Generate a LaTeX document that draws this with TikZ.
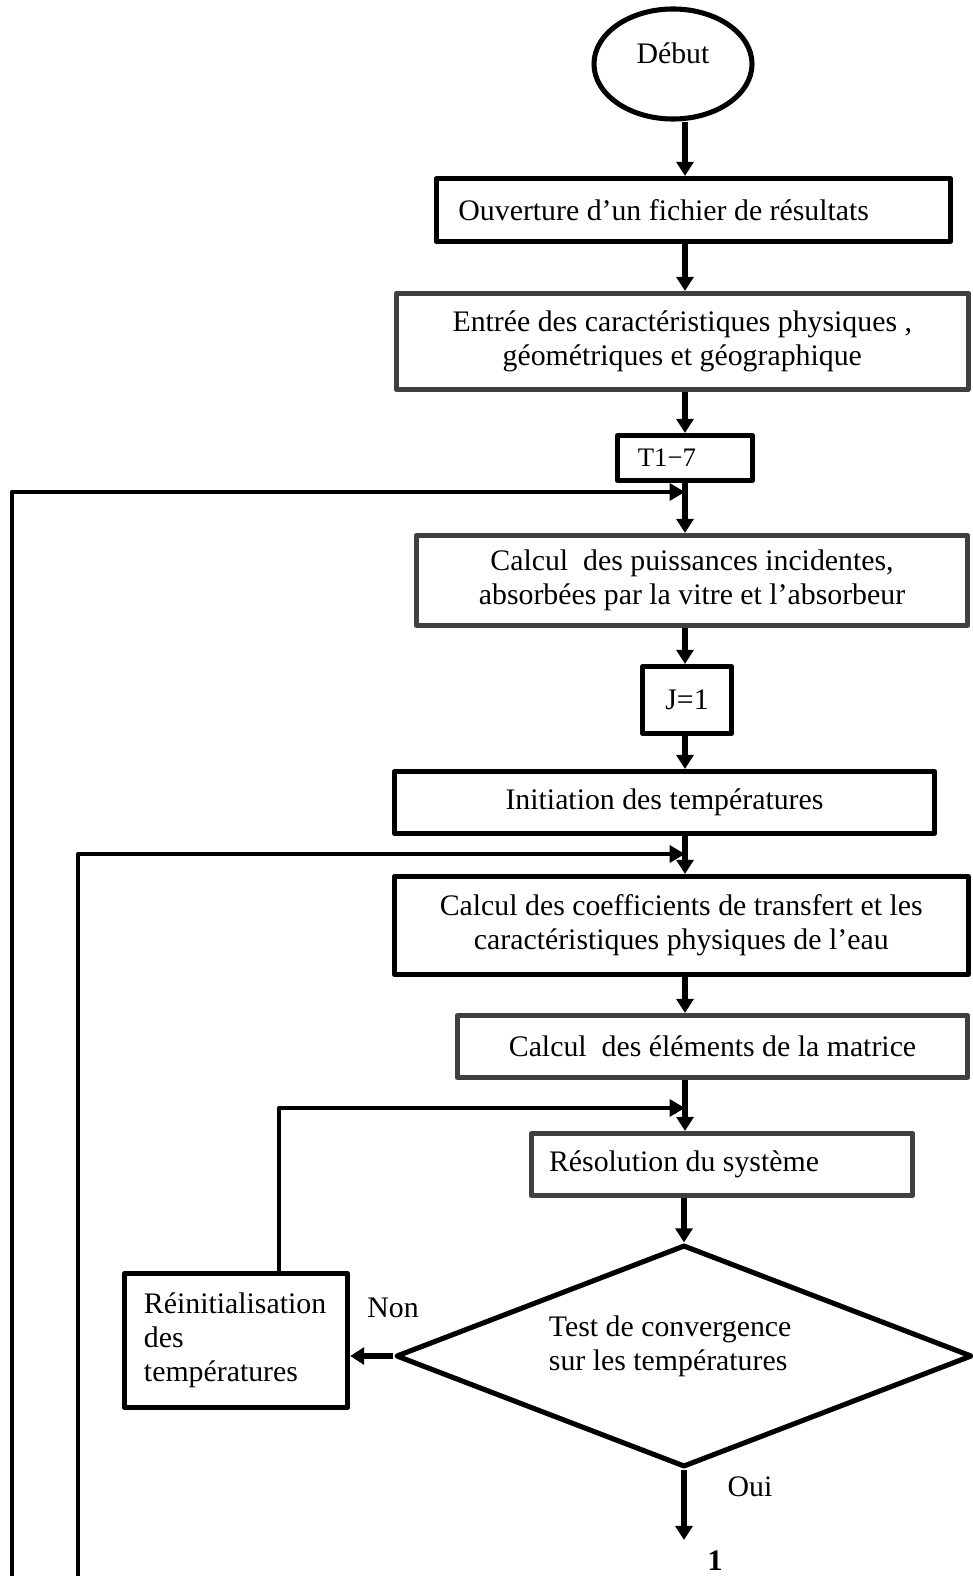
\documentclass[tikz,border=0pt]{standalone}
\usepackage{fontspec}
\setmainfont{Liberation Serif}
\usetikzlibrary{shapes.geometric,arrows.meta}

\begin{document}
\begin{tikzpicture}[
        x = 0.025cm, y = -0.025cm,
        line join=round,
        font = \fontsize{21.2}{24.3}\selectfont,
        boxstyle/.style = {draw, line width=3.6pt, inner sep=0pt},
        greystyle/.style = {boxstyle, draw=black!75},
        leftstyle/.style = {align=flush left, inner ysep=0pt},
        arrowstyle/.style = {line width=3.8pt, -{Triangle[length=10pt, width=12pt]}},
        loopstyle/.style = {line width=3.4pt, -{Triangle[length=11pt, width=12pt]}}
    ]

    \useasboundingbox (0,0) rectangle (972,1576);

        \coordinate (col) at (685,0);
        \coordinate (a1) at (12,1576);
        \coordinate (a2) at (78,1576);
        \coordinate (in1) at (685,492);
        \coordinate (in2) at (685,854);
        \coordinate (in3) at (685,1108);
        \coordinate (back) at (279,0);
        \coordinate (out) at (684,1540);

    \node[boxstyle, ellipse, text depth=0.55cm, minimum width=3.95cm, minimum height=2.75cm] (debut) at (673,64) {Début};
    \node[boxstyle, leftstyle, minimum height=1.575cm, text width=11.75cm, inner xsep=0.55cm] (ouv) at (693.5,210) {Ouverture d’un fichier de résultats};
    \node[greystyle, align=flush center, minimum width=14.29cm, minimum height=2.4cm] (entree) at (682.25,341.5) {Entrée des caractéristiques physiques ,\\ géométriques et géographique};
    \node[boxstyle, leftstyle, minimum height=1.125cm, text width=2.355cm, inner xsep=0.51cm, font=\fontsize{19}{22}\selectfont] (t17) at (685,458) {T1−7};
    \node[greystyle, align=flush center, minimum width=13.775cm, minimum height=2.25cm] (puiss) at (692,580.5) {Calcul~ des puissances incidentes,\\ absorbées par la vitre et l’absorbeur};
    \node[boxstyle, minimum width=2.225cm, minimum height=1.675cm] (j1) at (687,700) {J=1};
    \node[boxstyle, minimum width=13.5cm, minimum height=1.55cm] (init) at (664.5,802.5) {Initiation des températures};
    \node[boxstyle, align=flush center, minimum width=14.34cm, minimum height=2.45cm] (coef) at (681.25,925.5) {Calcul des coefficients de transfert et les\\ caractéristiques physiques de l’eau};
    \node[greystyle, minimum width=12.75cm, minimum height=1.55cm] (elem) at (712.5,1046.5) {Calcul~ des éléments de la matrice};
    \node[greystyle, leftstyle, minimum height=1.55cm, text width=8.645cm, inner xsep=0.44cm] (resol) at (722,1164.5) {Résolution du système};
    \node[boxstyle, diamond, aspect=2.6, align=flush left, text width=6.75cm, text depth=1.5cm, minimum width=14.4cm, minimum height=5.55cm] (test) at (684,1356) {Test de convergence\\ sur les températures};
    \node[boxstyle, leftstyle, minimum height=3.35cm, text width=4.6cm, inner xsep=0.49cm] (reinit) at (236,1340.5) {Réinitialisation\\ des\\ températures};

    \node (non) at (393,1308) {Non};
    \node (oui) at (750,1487) {Oui};
    \node[font=\fontsize{21.2}{24.3}\selectfont\bfseries] (one) at (715,1561) {1};

    \draw[arrowstyle] (debut.south -| col) -- (ouv.north -| col);
    \draw[arrowstyle] (ouv.south -| col) -- (entree.north -| col);
    \draw[arrowstyle] (entree.south -| col) -- (t17.north -| col);
    \draw[arrowstyle] (t17.south -| col) -- (puiss.north -| col);
    \draw[arrowstyle] (puiss.south -| col) -- (j1.north -| col);
    \draw[arrowstyle] (j1.south -| col) -- (init.north -| col);
    \draw[arrowstyle] (init.south -| col) -- (coef.north -| col);
    \draw[arrowstyle] (coef.south -| col) -- (elem.north -| col);
    \draw[arrowstyle] (elem.south -| col) -- (resol.north -| col);
    \draw[arrowstyle] (resol.south -| test.north) -- (test.north);
    \draw[arrowstyle] (test.west) -- (test.west -| reinit.east);
    \draw[arrowstyle] (test.south) -- (out);

    \draw[loopstyle] (a1) |- (in1);
    \draw[loopstyle] (a2) |- (in2);
    \draw[loopstyle] (reinit.north -| back) |- (in3);

\end{tikzpicture}
\end{document}
